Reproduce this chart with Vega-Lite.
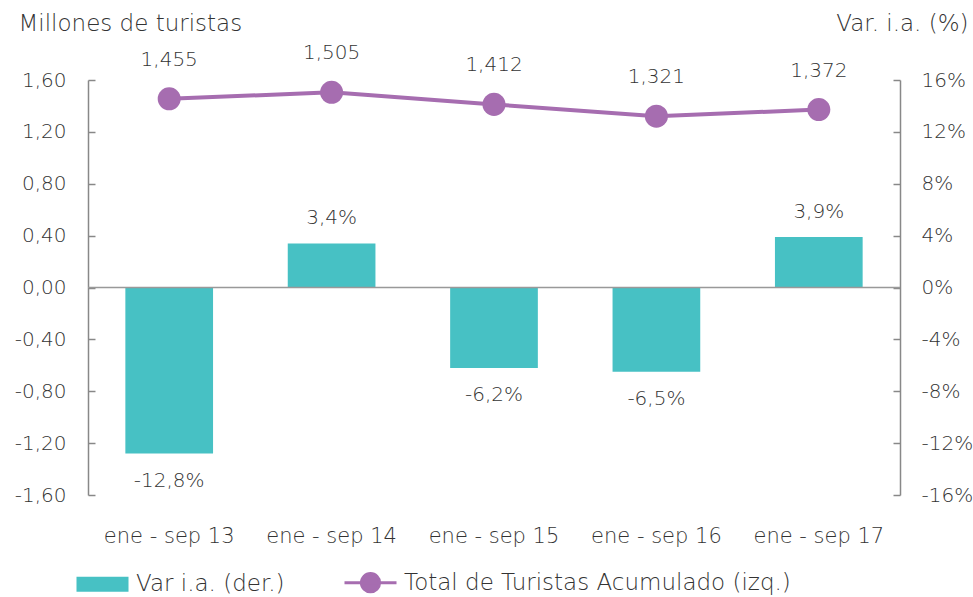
{
  "$schema": "https://vega.github.io/schema/vega-lite/v6.json",
  "width": 812,
  "height": 415,
  "autosize": "none",
  "padding": {"left": 88, "top": 80, "right": 73, "bottom": 102},
  "background": "white",
  "config": {
    "locale": {"number": {"decimal": ",", "thousands": ".", "grouping": [3], "currency": ["", " €"], "minus": "-"}},
    "font": "DejaVu Sans",
    "view": {"stroke": null},
    "axis": {"labelFont": "DejaVu Sans", "labelFontSize": 20, "labelFontWeight": 300, "labelColor": "#333333", "titleFont": "DejaVu Sans", "titleFontSize": 23, "titleFontWeight": 300, "titleColor": "#333333", "grid": false}
  },
  "datasets": {
    "main": [
      {"periodo": "ene - sep 13", "var": -0.128, "total": 1.455},
      {"periodo": "ene - sep 14", "var": 0.034, "total": 1.505},
      {"periodo": "ene - sep 15", "var": -0.062, "total": 1.412},
      {"periodo": "ene - sep 16", "var": -0.065, "total": 1.321},
      {"periodo": "ene - sep 17", "var": 0.039, "total": 1.372}
    ],
    "zero": [{"v": 0}]
  },
  "data": {"name": "main"},
  "encoding": {
    "x": {"field": "periodo", "type": "nominal", "sort": null,
      "scale": {"paddingInner": 0.46, "paddingOuter": 0.23},
      "axis": {"title": null, "labelAngle": 0, "domain": false, "ticks": false, "labelPadding": 30, "labelFontSize": 21}}
  },
  "layer": [
    {
      "layer": [
        {
          "mark": {"type": "bar"},
          "encoding": {
            "y": {"field": "var", "type": "quantitative",
              "scale": {"domain": [-0.16, 0.16], "nice": false, "zero": false},
              "axis": {"orient": "right", "format": ".0%", "values": [-0.16, -0.12, -0.08, -0.04, 0, 0.04, 0.08, 0.12, 0.16],
                "domainColor": "#888888", "domainWidth": 1.5, "tickColor": "#888888", "tickWidth": 1.5, "tickSize": -7, "labelPadding": 28,
                "title": "Var. i.a. (%)", "titleAngle": 0, "titleX": 68, "titleY": -50, "titleAlign": "right", "titleBaseline": "alphabetic"}},
            "color": {"datum": "Var i.a. (der.)", "type": "nominal",
              "scale": {"domain": ["Var i.a. (der.)", "Total de Turistas Acumulado (izq.)"], "range": ["#47C1C4", "#A66DB0"]},
              "legend": {"orient": "none", "legendX": 3, "legendY": 491, "direction": "horizontal", "title": null,
                "symbolSize": 2704, "labelFontSize": 23, "labelFont": "DejaVu Sans", "labelFontWeight": 300, "labelColor": "#333333", "columnPadding": 53, "labelOffset": 22, "labelLimit": 600,
                "encode": {"symbols": {"update": {
                  "shape": {"signal": "datum.value == 'Var i.a. (der.)' ? 'M-1,-0.29H1V0.29H-1Z' : 'M-1,0H1M0.35,0A0.35,0.35,0,1,1,-0.35,0A0.35,0.35,0,1,1,0.35,0Z'"},
                  "fill": {"signal": "datum.value == 'Var i.a. (der.)' ? '#47C1C4' : '#A66DB0'"},
                  "stroke": {"signal": "datum.value == 'Var i.a. (der.)' ? '#47C1C4' : '#A66DB0'"},
                  "strokeWidth": {"signal": "datum.value == 'Var i.a. (der.)' ? 0 : 3"},
                  "opacity": {"value": 1},
                  "size": {"value": 2704}}}}}}
          }
        },
        {
          "transform": [{"filter": "datum.var >= 0"}],
          "mark": {"type": "text", "dy": -25, "fontSize": 20, "fontWeight": 300, "color": "#333333", "font": "DejaVu Sans"},
          "encoding": {"y": {"field": "var", "type": "quantitative"}, "text": {"field": "var", "type": "quantitative", "format": ".1%"}}
        },
        {
          "transform": [{"filter": "datum.var < 0"}],
          "mark": {"type": "text", "dy": 27, "fontSize": 20, "fontWeight": 300, "color": "#333333", "font": "DejaVu Sans"},
          "encoding": {"y": {"field": "var", "type": "quantitative"}, "text": {"field": "var", "type": "quantitative", "format": ".1%"}}
        }
      ]
    },
    {
      "layer": [
        {
          "data": {"name": "zero"},
          "mark": {"type": "rule", "color": "#999999", "strokeWidth": 1.5},
          "encoding": {"x": {"value": 0}, "x2": {"value": 812}, "y": {"field": "v", "type": "quantitative"}}
        },
        {
          "mark": {"type": "line", "strokeWidth": 4},
          "encoding": {
            "y": {"field": "total", "type": "quantitative",
              "scale": {"domain": [-1.6, 1.6], "nice": false, "zero": false},
              "axis": {"orient": "left", "format": ".2f", "values": [-1.6, -1.2, -0.8, -0.4, 0, 0.4, 0.8, 1.2, 1.6],
                "domainColor": "#888888", "domainWidth": 1.5, "tickColor": "#888888", "tickWidth": 1.5, "tickSize": -7, "labelPadding": 29,
                "title": "Millones de turistas", "titleAngle": 0, "titleX": -70, "titleY": -50, "titleAlign": "left", "titleBaseline": "alphabetic"}},
            "color": {"datum": "Total de Turistas Acumulado (izq.)", "type": "nominal"}
          }
        },
        {
          "mark": {"type": "circle", "size": 530, "opacity": 1},
          "encoding": {
            "y": {"field": "total", "type": "quantitative"},
            "color": {"datum": "Total de Turistas Acumulado (izq.)", "type": "nominal"}
          }
        },
        {
          "mark": {"type": "text", "dy": -39, "fontSize": 20, "fontWeight": 300, "color": "#333333", "font": "DejaVu Sans"},
          "encoding": {"y": {"field": "total", "type": "quantitative"}, "text": {"field": "total", "type": "quantitative", "format": ".3f"}}
        }
      ]
    }
  ],
  "resolve": {"scale": {"y": "independent"}}
}
